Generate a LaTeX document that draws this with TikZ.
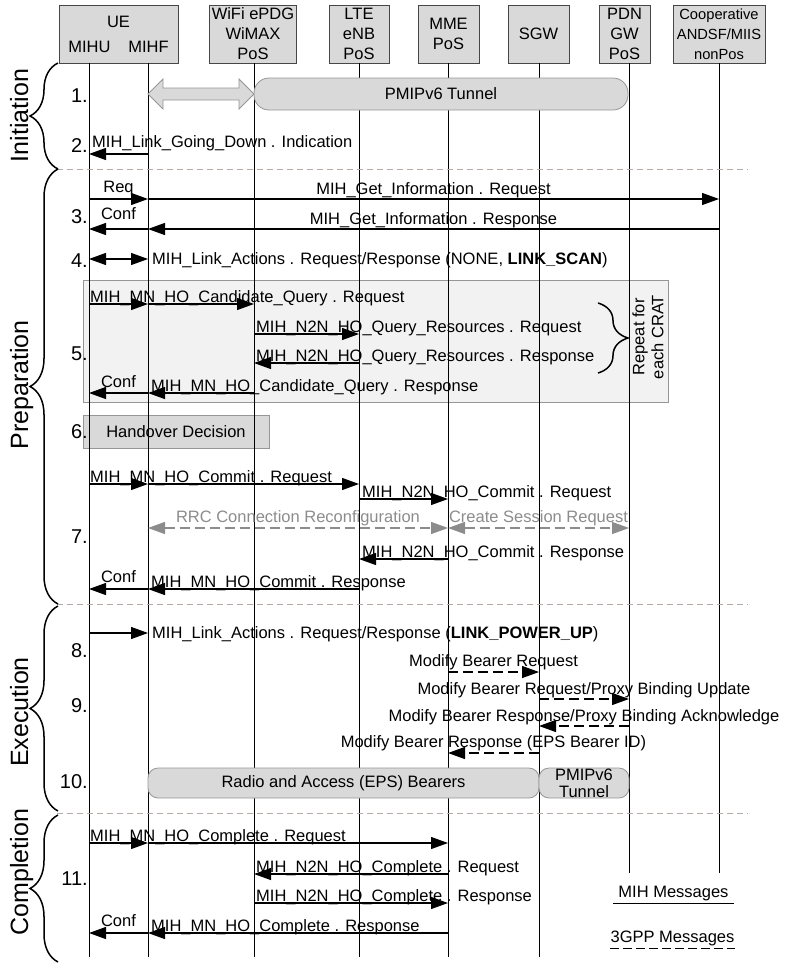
\documentclass[tikz,border=0pt]{standalone}
\usepackage{fontspec}
\setmainfont{Liberation Sans}
\usetikzlibrary{arrows.meta,decorations.pathreplacing}
\definecolor{boxgray}{RGB}{217,217,217}
\definecolor{boxedge}{RGB}{70,70,70}
\definecolor{paleback}{RGB}{242,242,242}
\definecolor{paleedge}{RGB}{150,150,150}
\definecolor{sepcol}{RGB}{180,170,165}
\definecolor{rrcgray}{RGB}{140,140,140}

\begin{document}
\begin{tikzpicture}[x=1pt,y=-1pt,
		font=\fontsize{16.5}{20}\selectfont,
		>={Triangle[length=17pt,width=12pt]},
		hdr/.style={rectangle,draw=boxedge,fill=boxgray,line width=0.8pt,minimum height=58pt,align=center,inner sep=0pt},
		life/.style={line width=1pt},
		msg/.style={line width=1.2pt},
		gpp/.style={msg,dash pattern=on 10pt off 5pt},
		rrc/.style={<->,draw=rrcgray,msg,dash pattern=on 10pt off 5pt},
		lbl/.style={anchor=base west,inner sep=0pt},
		num/.style={anchor=base east,inner sep=0pt,font=\fontsize{20}{24}\selectfont},
		phase/.style={anchor=base,rotate=90,inner sep=0pt,font=\fontsize{25}{30}\selectfont},
		brc/.style={decorate,decoration={brace,amplitude=28pt},line width=1.5pt},
		sep/.style={draw=sepcol,dash pattern=on 6pt off 4pt,line width=0.8pt},
		tun/.style={rectangle,draw=paleedge,fill=boxgray,line width=0.8pt,inner sep=0pt},
	]
	\useasboundingbox (0,0) rectangle (786,964);

	\node[hdr,minimum width=119pt] (hue) at (118.5,34) {UE\\[5pt]MIHU\hspace{18pt}MIHF};
	\node[hdr,minimum width=87pt] (hwifi) at (253,34) {WiFi ePDG\\WiMAX\\PoS};
	\node[hdr,minimum width=60pt] (hlte) at (359,34) {LTE\\eNB\\PoS};
	\node[hdr,minimum width=61pt] (hmme) at (448.5,34) {MME\\PoS};
	\node[hdr,minimum width=61pt] (hsgw) at (538.5,34) {SGW};
	\node[hdr,minimum width=51pt] (hpdn) at (624.5,34) {PDN\\GW\\PoS};
	\node[hdr,minimum width=92pt,font=\fontsize{14.7}{20}\selectfont] (hcoop) at (719,34) {Cooperative\\ANDSF/MIIS\\nonPos};

	\coordinate (mihu) at (89,63);
	\coordinate (mihf) at (148,63);
	\coordinate (wifi) at (254,63);
	\coordinate (lte) at (359,63);
	\coordinate (mme) at (448,63);
	\coordinate (sgw) at (539,63);
	\coordinate (pdn) at (629,63);
	\coordinate (coop) at (719,63);
	\coordinate (bot) at (0,957);
	\coordinate (botr) at (0,873);
	\foreach \r/\y in {a2/154,a3/199,b3/229,a4/259,a5/304,b5/334,c5/363,d5/393,a7/484,b7/499,c7/528,d7/559,e7/589,a8/633,a9/672,b9/699,c9/726,d9/753,a11/843,b11/874,c11/903,d11/933}
		\coordinate (\r) at (0,\y);

	\draw[draw=paleedge,fill=paleback,line width=0.8pt] (83,280) rectangle (668,402);
	\node[tun,minimum width=186pt,minimum height=33pt] (hod) at (176,431.5) {Handover Decision};

	\foreach \l in {mihu,mihf,wifi,lte,mme,sgw}
		\draw[life] (\l) -- (\l |- bot);
	\foreach \l in {pdn,coop}
		\draw[life] (\l) -- (\l |- botr);

	\node[tun,minimum width=374pt,minimum height=32pt,rounded corners=15pt] (tun1) at (441,94) {PMIPv6 Tunnel};
	\draw[draw=paleedge,fill=boxgray,line width=0.8pt] (148,94) -- (163,79) -- (163,88) -- (239,88) -- (239,79) -- (254,94) -- (239,109) -- (239,100) -- (163,100) -- (163,109) -- cycle;
	\node[tun,minimum width=391pt,minimum height=30pt,rounded corners=10pt] (bear) at (343.5,783) {Radio and Access (EPS) Bearers};
	\node[tun,minimum width=90pt,minimum height=30pt,rounded corners=10pt,align=center,font=\fontsize{16.5}{17}\selectfont] (tun2) at (584,783) {PMIPv6\\Tunnel};

	\path[sep] (57,169) -- (748,169);
	\path[sep] (57,604) -- (748,604);
	\path[sep] (57,813) -- (748,813);

	\draw[brc] (58,169) -- (58,63);
	\draw[brc] (58,604) -- (58,169);
	\draw[brc] (58,811) -- (58,606);
	\draw[brc] (58,962) -- (58,815);
	\node[phase] (pinit) at (28,115.5) {Initiation};
	\node[phase] (pprep) at (28,385) {Preparation};
	\node[phase] (pexec) at (28,712) {Execution};
	\node[phase] (pcomp) at (28,872) {Completion};

	\foreach \n/\y in {1./102,2./152,3./223,4./267,5./360,6./438,7./543,8./657,9./712,10./788,11./885}
		\node[num] (s\y) at (88,\y) {\n};

	\path[->,draw,msg] (mihf |- a2) -- (mihu |- a2);
	\node[lbl] (t2) at (92,147) {MIH\_Link\_Going\_Down . Indication};

	\path[->,draw,msg] (mihu |- a3) -- node[midway,above,inner sep=2.5pt] (req3) {Req} (mihf |- a3);
	\path[->,draw,msg] (mihf |- a3) -- node[midway,above,inner sep=0.5pt] (t3a) {MIH\_Get\_Information . Request} (coop |- a3);
	\path[->,draw,msg] (coop |- b3) -- node[midway,above,inner sep=0.5pt] (t3b) {MIH\_Get\_Information . Response} (mihf |- b3);
	\path[->,draw,msg] (mihf |- b3) -- node[midway,above,inner sep=9pt] (conf3) {Conf} (mihu |- b3);

	\path[<->,draw,msg] (mihu |- a4) -- (mihf |- a4);
	\node[lbl] (t4) at (152,264) {MIH\_Link\_Actions . Request/Response (NONE, \textbf{LINK\_SCAN})};

	\path[->,draw,msg] (mihu |- a5) -- (mihf |- a5);
	\path[->,draw,msg] (mihf |- a5) -- (wifi |- a5);
	\node[lbl] (t5a) at (90,302) {MIH\_MN\_HO\_Candidate\_Query . Request};
	\path[->,draw,msg] (wifi |- b5) -- (lte |- b5);
	\node[lbl] (t5b) at (256,332) {MIH\_N2N\_HO\_Query\_Resources . Request};
	\path[->,draw,msg] (lte |- c5) -- (wifi |- c5);
	\node[lbl] (t5c) at (256,361) {MIH\_N2N\_HO\_Query\_Resources . Response};
	\path[->,draw,msg] (wifi |- d5) -- (mihf |- d5);
	\path[->,draw,msg] (mihf |- d5) -- node[midway,above,inner sep=5pt] (conf5) {Conf} (mihu |- d5);
	\node[lbl] (t5d) at (151,391) {MIH\_MN\_HO\_Candidate\_Query . Response};
	\draw[decorate,decoration={brace,amplitude=30pt},line width=1.5pt] (598,303) -- (598,373);
	\node[rotate=90,align=center,inner sep=0pt,font=\fontsize{16.5}{19}\selectfont] (rep) at (648,337) {Repeat for\\each CRAT};

	\path[->,draw,msg] (mihu |- a7) -- (mihf |- a7);
	\path[->,draw,msg] (mihf |- a7) -- (lte |- a7);
	\node[lbl] (t7a) at (90,482) {MIH\_MN\_HO\_Commit . Request};
	\path[->,draw,msg] (lte |- b7) -- (mme |- b7);
	\node[lbl] (t7b) at (362,497) {MIH\_N2N\_HO\_Commit . Request};
	\path[rrc] (mihf |- c7) -- node[midway,above,inner sep=1.5pt,text=rrcgray] (rrc7) {RRC Connection Reconfiguration} (mme |- c7);
	\path[rrc] (mme |- c7) -- node[midway,above,inner sep=1.5pt,text=rrcgray] (csr7) {Create Session Request} (pdn |- c7);
	\path[->,draw,msg] (mme |- d7) -- (lte |- d7);
	\node[lbl] (t7d) at (362,557) {MIH\_N2N\_HO\_Commit . Response};
	\path[->,draw,msg] (lte |- e7) -- (mihf |- e7);
	\path[->,draw,msg] (mihf |- e7) -- node[midway,above,inner sep=6pt] (conf7) {Conf} (mihu |- e7);
	\node[lbl] (t7e) at (151,587) {MIH\_MN\_HO\_Commit . Response};

	\path[->,draw,msg] (mihu |- a8) -- (mihf |- a8);
	\node[lbl] (t8) at (152,638) {MIH\_Link\_Actions . Request/Response (\textbf{LINK\_POWER\_UP})};

	\path[->,draw,gpp] (mme |- a9) -- node[midway,above,inner sep=1.5pt] (t9a) {Modify Bearer Request} (sgw |- a9);
	\path[->,draw,gpp] (sgw |- b9) -- node[midway,above,inner sep=0.5pt] (t9b) {Modify Bearer Request/Proxy Binding Update} (pdn |- b9);
	\path[->,draw,gpp] (pdn |- c9) -- node[midway,above,inner sep=0.5pt] (t9c) {Modify Bearer Response/Proxy Binding Acknowledge} (sgw |- c9);
	\path[->,draw,gpp] (sgw |- d9) -- node[midway,above,inner sep=1.5pt] (t9d) {Modify Bearer Response (EPS Bearer ID)} (mme |- d9);

	\path[->,draw,msg] (mihu |- a11) -- (mihf |- a11);
	\path[->,draw,msg] (mihf |- a11) -- (mme |- a11);
	\node[lbl] (t11a) at (90,841) {MIH\_MN\_HO\_Complete . Request};
	\path[->,draw,msg] (mme |- b11) -- (wifi |- b11);
	\node[lbl] (t11b) at (256,872) {MIH\_N2N\_HO\_Complete . Request};
	\path[->,draw,msg] (wifi |- c11) -- (mme |- c11);
	\node[lbl] (t11c) at (256,901) {MIH\_N2N\_HO\_Complete . Response};
	\path[->,draw,msg] (mme |- d11) -- (mihf |- d11);
	\path[->,draw,msg] (mihf |- d11) -- node[midway,above,inner sep=6pt] (conf11) {Conf} (mihu |- d11);
	\node[lbl] (t11d) at (151,931) {MIH\_MN\_HO\_Complete . Response};

	\coordinate (k1a) at (613,903);
	\coordinate (k1b) at (734,903);
	\coordinate (k2a) at (610,948);
	\coordinate (k2b) at (735,948);
	\draw[line width=1pt] (k1a) -- node[midway,above,inner sep=1.5pt] (kmih) {MIH Messages} (k1b);
	\draw[line width=1pt,dash pattern=on 9pt off 4pt] (k2a) -- node[midway,above,inner sep=1.5pt] (kgpp) {3GPP Messages} (k2b);
\end{tikzpicture}
\end{document}
